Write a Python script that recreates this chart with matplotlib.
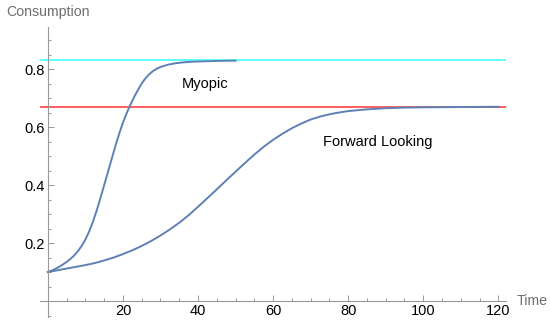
import matplotlib.pyplot as plt
from matplotlib.ticker import MultipleLocator, FixedLocator

plt.rcParams["font.family"] = ["Liberation Sans", "DejaVu Sans"]

# values
t_myopic = [0, 1, 2, 3, 4, 5, 6, 7, 8, 9, 10, 11, 12, 13, 14, 15, 16, 17, 18, 19, 20,
            21, 22, 23, 24, 25, 26, 27, 28, 29, 30, 32, 34, 36, 38, 40, 45, 50]
c_myopic = [0.100, 0.105, 0.111, 0.118, 0.126, 0.135, 0.145, 0.157, 0.172, 0.190, 0.212,
            0.240, 0.273, 0.312, 0.355, 0.400, 0.445, 0.490, 0.535, 0.577, 0.615,
            0.648, 0.677, 0.704, 0.728, 0.750, 0.768, 0.782, 0.793, 0.801, 0.807,
            0.815, 0.820, 0.823, 0.825, 0.826, 0.828, 0.829]

t_forward = [0, 2.5, 5, 7.5, 10, 12.5, 15, 17.5, 20, 22.5, 25, 27.5, 30, 32.5, 35, 37.5,
             40, 42.5, 45, 47.5, 50, 52.5, 55, 57.5, 60, 62.5, 65, 67.5, 70, 72.5, 75,
             77.5, 80, 85, 90, 95, 100, 110, 120]
c_forward = [0.100, 0.106, 0.112, 0.118, 0.124, 0.131, 0.140, 0.150, 0.162, 0.175, 0.190,
             0.207, 0.226, 0.247, 0.270, 0.296, 0.325, 0.355, 0.385, 0.416, 0.446,
             0.476, 0.505, 0.532, 0.556, 0.577, 0.596, 0.612, 0.626, 0.636, 0.644,
             0.650, 0.655, 0.661, 0.665, 0.667, 0.668, 0.669, 0.670]

steady_myopic = 0.83
steady_forward = 0.67

x_ticks = [20, 40, 60, 80, 100, 120]
y_ticks = [0.2, 0.4, 0.6, 0.8]

blue = "#5e81b5"
gray = "#999999"

fig = plt.figure(figsize=(5.5, 3.26), dpi=100)
ax = fig.add_axes([0.0727, 0.0276, 0.847, 0.8896])

ax.axhline(steady_myopic, color="#33ffff", lw=1.1, zorder=1)
ax.axhline(steady_forward, color="#ff3030", lw=1.1, zorder=1)
ax.plot(t_myopic, c_myopic, color=blue, lw=1.4, zorder=2)
ax.plot(t_forward, c_forward, color=blue, lw=1.4, zorder=2)

ax.text(42, 0.748, "Myopic", fontsize=10.5, ha="center", va="center")
ax.text(88, 0.548, "Forward Looking", fontsize=10.5, ha="center", va="center")

ax.set_xlim(-2.1, 122)
ax.set_ylim(-0.055, 0.945)

for side in ["top", "right"]:
    ax.spines[side].set_visible(False)
ax.spines["left"].set_position(("data", 0))
ax.spines["bottom"].set_position(("data", 0))
for side in ["left", "bottom"]:
    ax.spines[side].set_color(gray)
    ax.spines[side].set_linewidth(0.8)

ax.xaxis.set_major_locator(FixedLocator(x_ticks))
ax.yaxis.set_major_locator(FixedLocator(y_ticks))
ax.xaxis.set_minor_locator(MultipleLocator(5))
ax.yaxis.set_minor_locator(MultipleLocator(0.05))
ax.set_xticklabels([str(v) for v in x_ticks])
ax.set_yticklabels([f"{v:.1f}" for v in y_ticks])
ax.tick_params(which="both", direction="in", color=gray, width=0.7, labelsize=10.5, pad=2)
ax.tick_params(which="major", length=4)
ax.tick_params(which="minor", length=2.3)

fig.text(6 / 550, 1 - 12 / 326, "Consumption", color="#6e6e6e", fontsize=10.2, va="center", ha="left")
fig.text(517 / 550, 1 - 301 / 326, "Time", color="#6e6e6e", fontsize=10.2, va="center", ha="left")

fig.savefig("out.png", dpi=100)
